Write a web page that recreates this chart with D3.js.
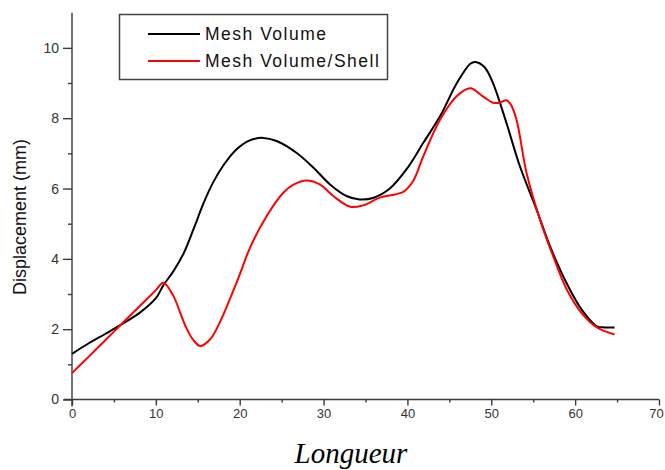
<!DOCTYPE html>
<html><head><meta charset="utf-8">
<script src="https://cdn.jsdelivr.net/npm/d3@7"></script>
<style>
html,body{margin:0;padding:0;background:#fff;}
svg{display:block;}
</style></head>
<body>
<svg id="chart" width="665" height="470"></svg>
<script>
// ---- data ----
const xTicks = [0, 10, 20, 30, 40, 50, 60, 70];
const yTicks = [0, 2, 4, 6, 8, 10];
const seriesNames = ["Mesh Volume", "Mesh Volume/Shell"];
const seriesColors = ["#000000", "#ff0000"];

const volumeX = [0, 2, 4, 6, 8.1, 10, 10.9, 12.1, 13.3, 14.5, 15.7, 16.8, 18, 19.6, 21.2, 22.8, 24.4, 26.8, 28.8, 30.8, 32.8, 34.3, 35.9, 37.9, 39.9, 41.9, 43.9, 45.9, 47.5, 48.1, 49.2, 50.2, 51.8, 53.4, 55.4, 57, 59, 60.8, 62.6, 63.5, 64.7];
const volumeY = [1.3, 1.6, 1.87, 2.15, 2.47, 2.88, 3.25, 3.65, 4.15, 4.85, 5.59, 6.16, 6.64, 7.11, 7.37, 7.44, 7.35, 7.01, 6.59, 6.11, 5.78, 5.69, 5.73, 6.0, 6.55, 7.3, 8.06, 9.0, 9.55, 9.6, 9.45, 9.0, 7.87, 6.64, 5.4, 4.36, 3.3, 2.55, 2.08, 2.05, 2.05];

const shellX = [0, 2, 4, 6, 8, 10, 10.9, 12.1, 12.9, 13.7, 14.5, 15.3, 16.5, 17.6, 18.8, 20, 21.2, 23.2, 25.2, 26.4, 28, 29.6, 31.2, 33.2, 34.7, 36.7, 38.7, 39.6, 40.7, 41.9, 43.9, 45.9, 47.5, 49, 50.2, 51, 51.8, 52.3, 53, 54.2, 55.8, 57.5, 59, 60.8, 62.6, 64.7];
const shellY = [0.75, 1.22, 1.69, 2.17, 2.64, 3.11, 3.32, 2.94, 2.47, 2.0, 1.68, 1.52, 1.72, 2.18, 2.84, 3.55, 4.3, 5.21, 5.88, 6.11, 6.23, 6.11, 5.78, 5.48, 5.52, 5.74, 5.84, 5.92, 6.22, 6.92, 7.96, 8.63, 8.85, 8.62, 8.44, 8.44, 8.51, 8.4, 7.96, 6.45, 5.12, 4.0, 3.13, 2.45, 2.05, 1.85];

// ---- drawing ----
const svg = d3.select("#chart");
const x = d3.scaleLinear().domain([0, 70]).range([72, 659]);
const y = d3.scaleLinear().domain([0, 11]).range([399.5, 12.7]);

const axisColor = "#3a3a3a";

// minor ticks
const gx = svg.append("g").attr("transform", `translate(0,${y(0)})`);
gx.call(d3.axisBottom(x).tickValues(d3.range(5, 70, 10)).tickSize(3).tickFormat(""));
gx.call(g => g.select(".domain").remove());
const gxMaj = svg.append("g").attr("transform", `translate(0,${y(0)})`)
  .call(d3.axisBottom(x).tickValues(xTicks).tickSize(6).tickSizeOuter(0).tickPadding(3).tickFormat(d3.format("d")));
gxMaj.select(".domain").attr("d", `M${x(0)-8},0H${x(70)}`);
gxMaj.selectAll(".tick text").filter(d => d === 70).attr("dx", -3);

const gy = svg.append("g").attr("transform", `translate(${x(0)},0)`);
gy.call(d3.axisLeft(y).tickValues(d3.range(1, 11, 2)).tickSize(4).tickFormat(""));
gy.call(g => g.select(".domain").remove());
const gyMaj = svg.append("g").attr("transform", `translate(${x(0)},0)`)
  .call(d3.axisLeft(y).tickValues(yTicks).tickSize(9).tickSizeOuter(0).tickPadding(4).tickFormat(d3.format("d")));
gyMaj.select(".domain").attr("d", `M0,${y(11)}V${y(0)+7}`);

svg.selectAll(".tick line, .domain").attr("stroke", axisColor).attr("stroke-width", 1.4);
gxMaj.selectAll("text").attr("font-family", "Liberation Sans, Arial, sans-serif").attr("font-size", 13).attr("fill", "#333");
gyMaj.selectAll("text").attr("font-family", "Liberation Sans, Arial, sans-serif").attr("font-size", 14).attr("fill", "#333");

// axis titles
svg.append("text")
  .attr("transform", `translate(26,217) rotate(-90)`)
  .attr("text-anchor", "middle")
  .attr("font-family", "Liberation Sans, Arial, sans-serif")
  .attr("font-size", 18).attr("fill", "#111")
  .text("Displacement (mm)");
svg.append("text")
  .attr("x", 351).attr("y", 463)
  .attr("text-anchor", "middle")
  .attr("font-family", "Liberation Serif, Times New Roman, serif")
  .attr("font-style", "italic")
  .attr("font-size", 29).attr("fill", "#000")
  .text("Longueur");

// lines
const line = d3.line().x(d => x(d[0])).y(d => y(d[1])).curve(d3.curveCatmullRom.alpha(0.5));
const series = [
  { name: seriesNames[0], color: seriesColors[0], pts: d3.zip(volumeX, volumeY) },
  { name: seriesNames[1], color: seriesColors[1], pts: d3.zip(shellX, shellY) }
];
series.forEach(s => {
  svg.append("path").datum(s.pts)
    .attr("fill", "none").attr("stroke", s.color).attr("stroke-width", 2)
    .attr("stroke-linejoin", "round")
    .attr("d", line);
});

// legend
const lg = svg.append("g");
lg.append("rect").attr("x", 119.5).attr("y", 14.5).attr("width", 268).attr("height", 65)
  .attr("fill", "#fff").attr("stroke", "#444").attr("stroke-width", 1.5);
series.forEach((s, i) => {
  const yy = 34 + i * 27;
  lg.append("line").attr("x1", 148).attr("x2", 200).attr("y1", yy).attr("y2", yy)
    .attr("stroke", s.color).attr("stroke-width", 2);
  lg.append("text").attr("x", 205).attr("y", yy + 6)
    .attr("font-family", "Liberation Sans, Arial, sans-serif")
    .attr("font-size", 17.5).attr("letter-spacing", 1.5).attr("fill", "#111")
    .text(s.name);
});
</script>
</body></html>
